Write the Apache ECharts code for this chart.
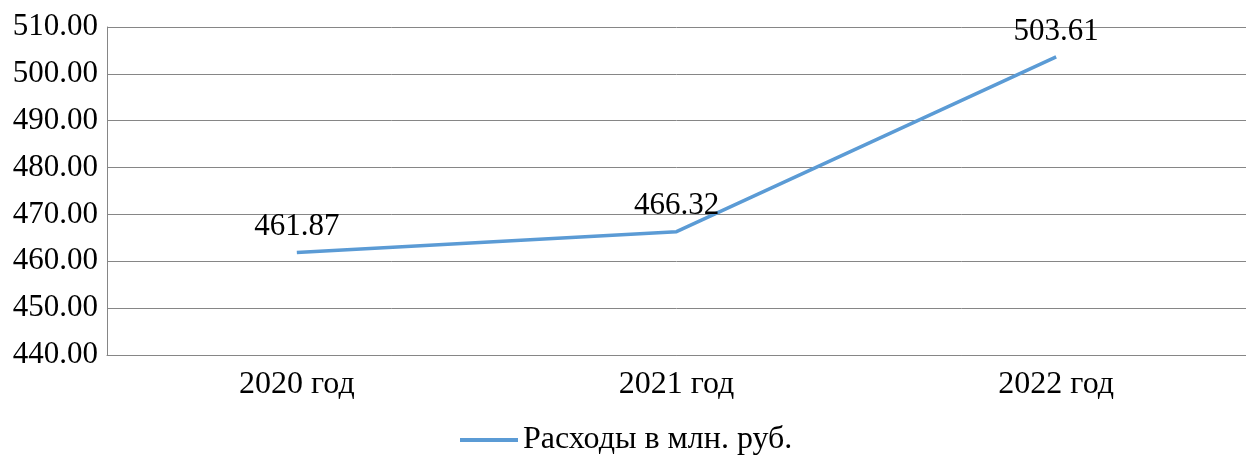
<!DOCTYPE html>
<html>
<head>
<meta charset="utf-8">
<script src="https://cdn.jsdelivr.net/npm/echarts@6/dist/echarts.min.js"></script>
<style>
	html,body{margin:0;padding:0;background:#fff;}
	#chart{width:1246px;height:461px;}
</style>
</head>
<body>
<div id="chart"></div>
<script>
	// категории и значения
	var years = ['2020 год', '2021 год', '2022 год'];
	var expenses = [461.87, 466.32, 503.61];
	var seriesName = 'Расходы в млн. руб.';

	var myChart = echarts.init(document.getElementById('chart'));
	var font = 'Liberation Serif, Times New Roman, serif';
	var option = {
		color: ['#5B9BD5'],
		textStyle: {fontFamily: font},
		grid: {left: 107, right: 0, top: 27, bottom: 106},
		legend: {
			bottom: 0,
			left: 455,
			icon: 'rect',
			itemWidth: 58,
			itemHeight: 4,
			itemGap: 10,
			textStyle: {fontFamily: font, fontSize: 32, color: '#000'},
			data: [seriesName]
		},
		xAxis: {
			type: 'category',
			data: years,
			boundaryGap: true,
			axisLine: {lineStyle: {color: '#868686', width: 1}},
			axisTick: {show: false},
			axisLabel: {fontFamily: font, fontSize: 32, color: '#000', margin: 14}
		},
		yAxis: {
			type: 'value',
			min: 440,
			max: 510,
			interval: 10,
			axisLine: {show: true, lineStyle: {color: '#868686', width: 1}},
			axisTick: {show: false},
			splitLine: {lineStyle: {color: '#868686', width: 1}},
			axisLabel: {
				fontFamily: font, fontSize: 31, color: '#000', margin: 9,
				formatter: function (v) { return v.toFixed(2); }
			}
		},
		series: [{
			name: seriesName,
			type: 'line',
			data: expenses,
			symbol: 'circle',
			symbolSize: 0.1,
			lineStyle: {width: 3.5, color: '#5B9BD5'},
			label: {
				show: true,
				position: 'top',
				distance: 10,
				fontFamily: font,
				fontSize: 31,
				color: '#000',
				formatter: function (p) { return p.value.toFixed(2); }
			},
			animation: false
		}],
		animation: false
	};
	myChart.setOption(option);
</script>
</body>
</html>
